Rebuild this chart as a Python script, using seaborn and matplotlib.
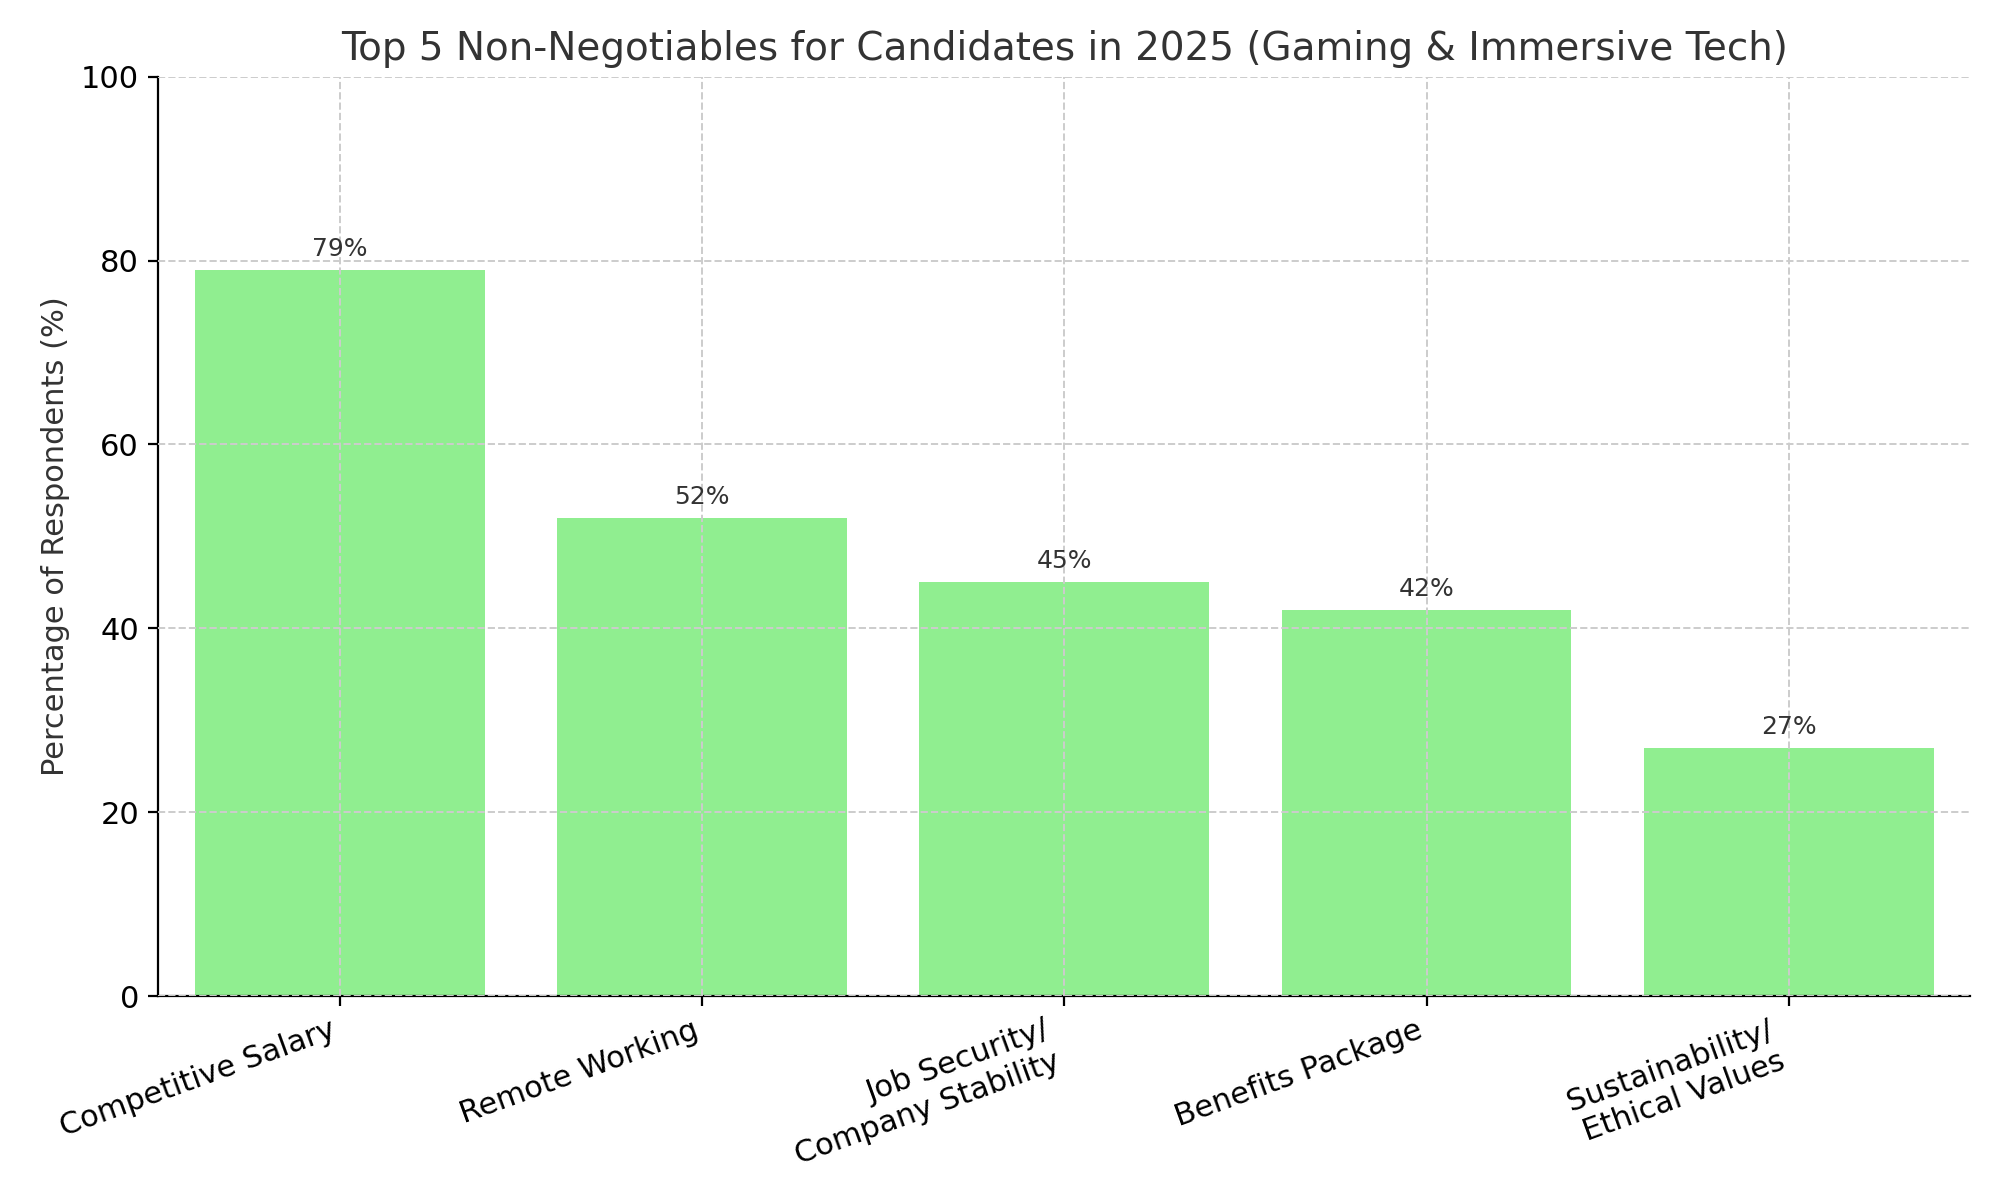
import matplotlib
matplotlib.use("Agg")
import matplotlib.pyplot as plt
import seaborn as sns
import pandas as pd

categories = [
    "Competitive Salary",
    "Remote Working",
    "Job Security/\nCompany Stability",
    "Benefits Package",
    "Sustainability/\nEthical Values",
]
percentages = [79, 52, 45, 42, 27]

df = pd.DataFrame({"category": categories, "pct": percentages})

fig, ax = plt.subplots(figsize=(10, 6), dpi=200)
sns.barplot(data=df, x="category", y="pct", color="#90EE90", saturation=1,
            width=0.8, ax=ax)

for i, v in enumerate(percentages):
    ax.text(i, v + 1, f"{v}%", ha="center", va="bottom", fontsize=9, color="#333333")

ax.set_ylim(0, 100)
ax.set_title("Top 5 Non-Negotiables for Candidates in 2025 (Gaming & Immersive Tech)",
             fontsize=14, color="#333333")
ax.set_xlabel("")
ax.set_ylabel("Percentage of Respondents (%)", fontsize=11, color="#333333")
ax.tick_params(axis="both", labelsize=11)
plt.setp(ax.get_xticklabels(), rotation=20, ha="right")
ax.grid(True, linestyle="--", color="#cccccc", linewidth=0.7)
ax.set_axisbelow(False)
sns.despine(ax=ax)

plt.tight_layout()
plt.savefig("out.png", dpi=200)
plt.close()
